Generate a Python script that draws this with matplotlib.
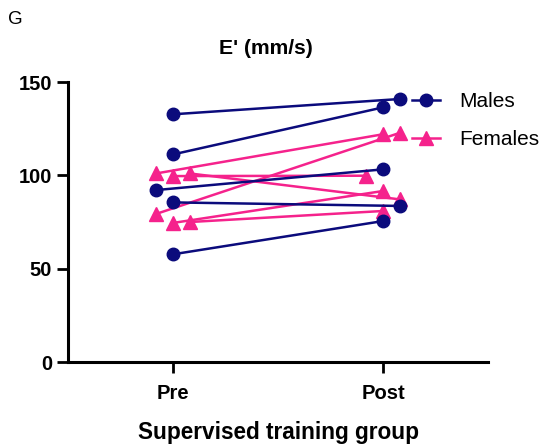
import numpy as np
import matplotlib
matplotlib.use('Agg')
import matplotlib.pyplot as plt

plt.rcParams['font.family'] = ['Liberation Sans', 'DejaVu Sans']

## Data (E' in mm/s)
groups = ["Pre", "Post"]
males_pre = [132.7, 111.2, 92.1, 85.5, 57.7]
males_post = [140.9, 136.4, 103.2, 83.6, 75.5]
females_pre = [101.0, 99.6, 101.0, 79.3, 74.5, 75.0]
females_post = [122.0, 99.8, 87.1, 122.8, 91.6, 80.9]

## horizontal scatter of overlapping points (-1 left, 0 centre, 1 right)
males_pre_shift = [0, 0, -1, 0, 0]
males_post_shift = [1, 0, 0, 1, 0]
females_pre_shift = [-1, 0, 1, -1, 0, 1]
females_post_shift = [0, -1, 1, 1, 0, 0]

navy = '#0b0b7c'
pink = '#f5228c'
jit = 0.081

fig = plt.figure(figsize=(5.43, 4.46), dpi=100)
ax = fig.add_axes([68/543, 1-362/446, 420/543, 280/446])

for i in range(len(females_pre)):
    xs = [0 + females_pre_shift[i]*jit, 1 + females_post_shift[i]*jit]
    ax.plot(xs, [females_pre[i], females_post[i]], color=pink, lw=1.8,
            marker='^', ms=9.5, mec=pink, mfc=pink,
            label='Females' if i == 0 else None, zorder=2)

for i in range(len(males_pre)):
    xs = [0 + males_pre_shift[i]*jit, 1 + males_post_shift[i]*jit]
    ax.plot(xs, [males_pre[i], males_post[i]], color=navy, lw=1.8,
            marker='o', ms=9, mec=navy, mfc=navy,
            label='Males' if i == 0 else None, zorder=3)

ax.set_xlim(-0.5, 1.5)
ax.set_ylim(0, 150)
ax.set_yticks([0, 50, 100, 150])
ax.set_xticks([0, 1])
ax.set_xticklabels(groups)
for s in ['top', 'right']:
    ax.spines[s].set_visible(False)
for s in ['left', 'bottom']:
    ax.spines[s].set_linewidth(2.2)
ax.tick_params(width=2, length=8, labelsize=14.5)
for lab in ax.get_xticklabels() + ax.get_yticklabels():
    lab.set_fontweight('bold')
ax.tick_params(axis='x', pad=8)
ax.set_xlabel('Supervised training group', fontsize=16.3, fontweight='bold', labelpad=13)

fig.text(266/543, 1-49/446, "E' (mm/s)", fontsize=15.2, fontweight='bold',
         ha='center', va='center')
fig.text(8/543, 1-19/446, 'G', fontsize=13.5, ha='left', va='center')

h, l = ax.get_legend_handles_labels()
fig.legend(h[::-1], l[::-1], loc='upper left', bbox_to_anchor=(412/543, 1-92.4/446),
           frameon=False, fontsize=15, handlelength=1.35, handletextpad=0.91,
           labelspacing=0.885, borderpad=0, borderaxespad=0)

fig.savefig('out.png', dpi=100)
